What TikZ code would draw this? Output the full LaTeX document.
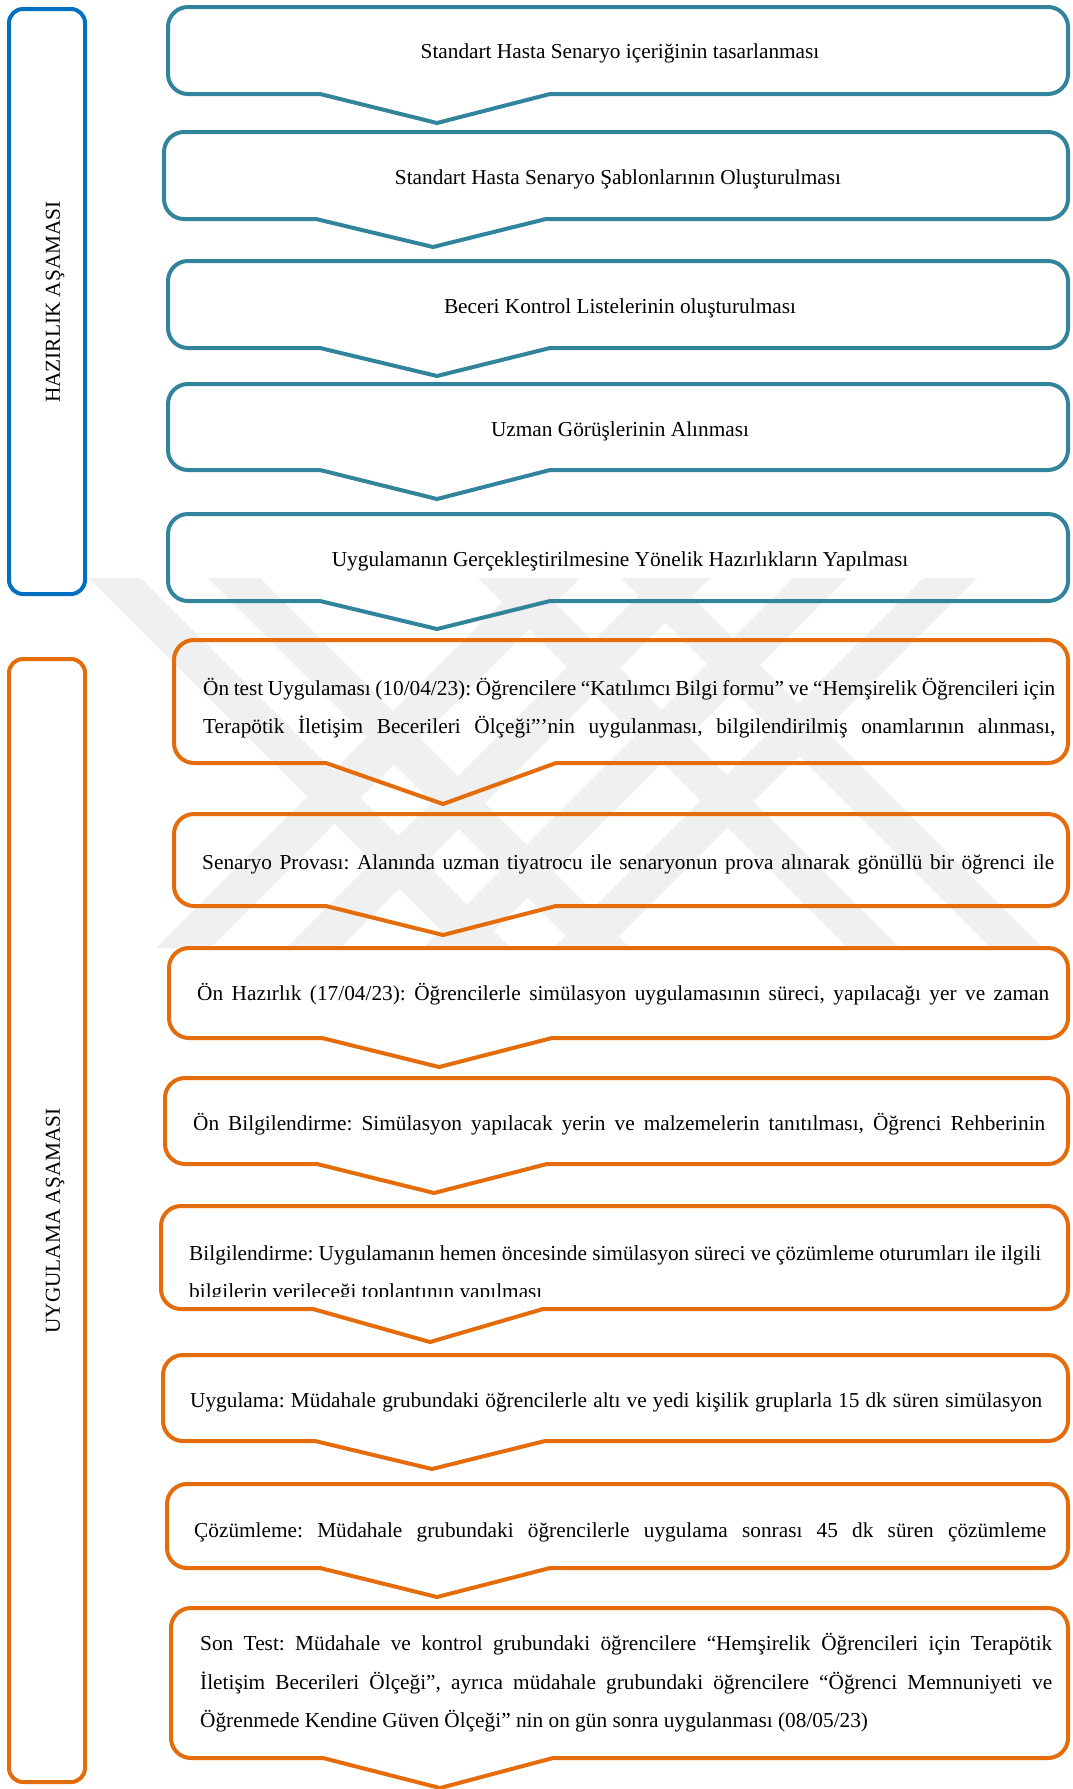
\documentclass[tikz,border=0pt]{standalone}
\usepackage{fontspec}
\setmainfont{Liberation Serif}
\frenchspacing
\definecolor{tealc}{RGB}{49,132,155}
\definecolor{bluec}{RGB}{0,112,192}
\definecolor{orangec}{RGB}{228,108,10}
\definecolor{wmark}{RGB}{240,240,240}
\newcommand{\jl}[1]{\makebox[852pt][s]{#1}}
\tikzset{
  tealbox/.style={draw=tealc, line width=4pt},
  orbox/.style={draw=orangec, line width=4pt},
  sidebox/.style={line width=4pt, rounded corners=14pt},
  txt/.style={font=\fontsize{21.3}{38}\selectfont, inner sep=0pt, anchor=base},
  ltxt/.style={font=\fontsize{21.3}{38}\selectfont, inner sep=0pt, anchor=base west},
  vtxt/.style={font=\fontsize{21.3}{38}\selectfont, inner sep=0pt, rotate=90},
  band/.style={fill=wmark, draw=none}
}
% callout: #1 style, #2 left, #3 top, #4 bottom, #5 tip x, #6 tip y
\newcommand{\callout}[6]{%
  \draw[#1] (#5+113,#4) [rounded corners=20pt] -- (1068,#4) -- (1068,#3) -- (#2,#3) -- (#2,#4)
    [sharp corners] -- (#5-117,#4) -- (#5,#6) -- cycle;}
% watermark bands: \bs{x at top} (down-right), \fs{x at top} (down-left)
\newcommand{\bs}[1]{\fill[band] (#1,578) -- (#1+52,578) -- (#1+422,948) -- (#1+370,948) -- cycle;}
\newcommand{\fs}[1]{\fill[band] (#1,578) -- (#1+54,578) -- (#1-316,948) -- (#1-370,948) -- cycle;}
\begin{document}
\begin{tikzpicture}[x=1pt,y=-1pt]
\useasboundingbox (0,0) rectangle (1072,1789);
% watermark
\begin{scope}
\clip (0,578) rectangle (1072,948);
\bs{89} \bs{208} \bs{478} \bs{621}
\fs{526} \fs{656} \fs{793} \fs{923}
\end{scope}
% side boxes
\draw[sidebox, draw=bluec] (9,9) rectangle (85,594);
\node[vtxt] (hz) at (55,302) {HAZIRLIK AŞAMASI};
\draw[sidebox, draw=orangec] (9,659) rectangle (85,1782);
\node[vtxt] (ug) at (55,1221) {UYGULAMA AŞAMASI};
% teal boxes
\callout{tealbox}{168}{7}{94}{437}{123}
\node[txt] (t1) at (620,58) {Standart Hasta Senaryo içeriğinin tasarlanması};
\callout{tealbox}{164}{132}{219}{433}{247}
\node[txt] (t2) at (618,184) {Standart Hasta Senaryo Şablonlarının Oluşturulması};
\callout{tealbox}{168}{261}{348}{437}{376}
\node[txt] (t3) at (620,313) {Beceri Kontrol Listelerinin oluşturulması};
\callout{tealbox}{168}{384}{470}{437}{499}
\node[txt] (t4) at (620,436) {Uzman Görüşlerinin Alınması};
\callout{tealbox}{168}{514}{601}{437}{629}
\node[txt] (t5) at (620,566) {Uygulamanın Gerçekleştirilmesine Yönelik Hazırlıkların Yapılması};
% orange boxes
\callout{orbox}{174}{640}{763}{443}{804}
\node[ltxt] (o1a) at (203,695) {\jl{Ön test Uygulaması (10/04/23): Öğrencilere “Katılımcı Bilgi formu” ve “Hemşirelik Öğrencileri için}};
\node[ltxt] (o1b) at (203,733) {\jl{Terapötik İletişim Becerileri Ölçeği”’nin uygulanması, bilgilendirilmiş onamlarının alınması,}};
\callout{orbox}{174}{814}{906}{443}{935}
\node[ltxt] (o2a) at (202,869) {\jl{Senaryo Provası: Alanında uzman tiyatrocu ile senaryonun prova alınarak gönüllü bir öğrenci ile}};
\callout{orbox}{169}{948}{1038}{439}{1067}
\node[ltxt] (o3a) at (197,1000) {\jl{Ön Hazırlık (17/04/23): Öğrencilerle simülasyon uygulamasının süreci, yapılacağı yer ve zaman}};
\callout{orbox}{165}{1078}{1164}{434}{1193}
\node[ltxt] (o4a) at (193,1130) {\jl{Ön Bilgilendirme: Simülasyon yapılacak yerin ve malzemelerin tanıtılması, Öğrenci Rehberinin}};
\callout{orbox}{161}{1206}{1309}{430}{1342}
\node[ltxt] (o5a) at (189,1260) {\jl{Bilgilendirme: Uygulamanın hemen öncesinde simülasyon süreci ve çözümleme oturumları ile ilgili}};
\begin{scope}
\clip (165,1270) rectangle (1060,1296);
\node[ltxt] (o5b) at (189,1298) {bilgilerin verileceği toplantının yapılması};
\end{scope}
\callout{orbox}{163}{1355}{1441}{432}{1469}
\node[ltxt] (o6a) at (190,1407) {\jl{Uygulama: Müdahale grubundaki öğrencilerle altı ve yedi kişilik gruplarla 15 dk süren simülasyon}};
\callout{orbox}{167}{1484}{1568}{437}{1597}
\node[ltxt] (o7a) at (194,1537) {\jl{Çözümleme: Müdahale grubundaki öğrencilerle uygulama sonrası 45 dk süren çözümleme}};
\callout{orbox}{171}{1608}{1758}{440}{1788}
\node[ltxt] (o8a) at (200,1650) {\jl{Son Test: Müdahale ve kontrol grubundaki öğrencilere “Hemşirelik Öğrencileri için Terapötik}};
\node[ltxt] (o8b) at (200,1689) {\jl{İletişim Becerileri Ölçeği”, ayrıca müdahale grubundaki öğrencilere “Öğrenci Memnuniyeti ve}};
\node[ltxt] (o8c) at (200,1727) {Öğrenmede Kendine Güven Ölçeği” nin on gün sonra uygulanması (08/05/23)};
\end{tikzpicture}
\end{document}
